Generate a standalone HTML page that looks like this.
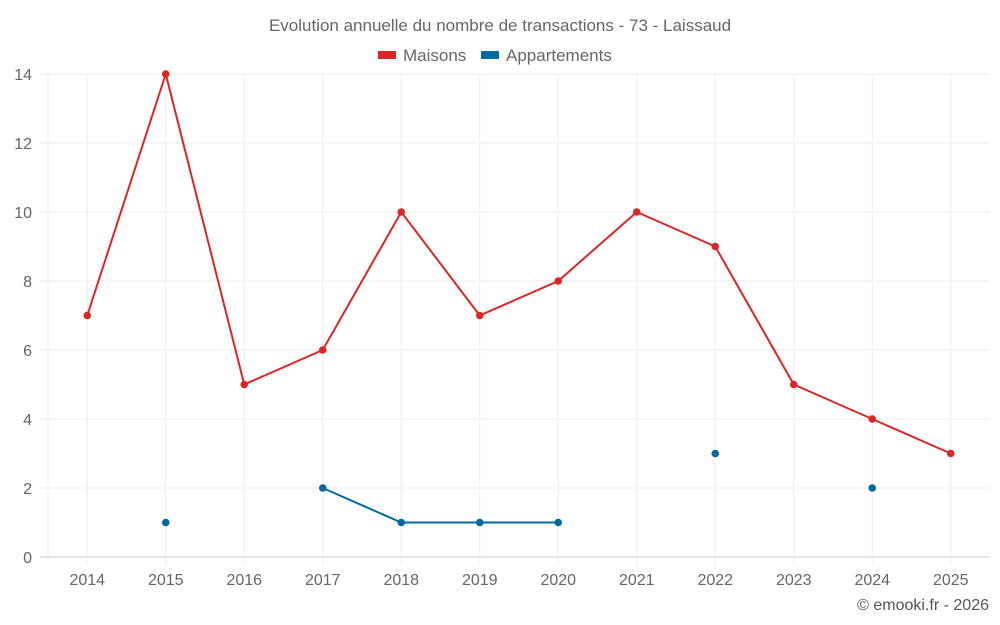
<!DOCTYPE html>
<html><head><meta charset="utf-8"><style>
body{margin:0;background:#fff;}
svg{display:block;font-family:"Liberation Sans",sans-serif;}
</style></head><body>
<svg id="chart" width="1000" height="625">
<text x="500" y="31" text-anchor="middle" font-size="17" fill="#666">Evolution annuelle du nombre de transactions - 73 - Laissaud</text>
<g>
<g><rect x="378" y="51" width="18" height="8" fill="#dc2626"/><text x="403" y="61" font-size="17" fill="#666">Maisons</text></g>
<g><rect x="481" y="51" width="18" height="8" fill="#0369a1"/><text x="506" y="61" font-size="17" fill="#666">Appartements</text></g>
</g>
<g id="grid"></g><g id="axes"></g><g id="series"></g>
<text x="989" y="610" text-anchor="end" font-size="16" fill="#555">© emooki.fr - 2026</text>
</svg>
<script>
const categories=["2014","2015","2016","2017","2018","2019","2020","2021","2022","2023","2024","2025"];
const maisons=[7,14,5,6,10,7,8,10,9,5,4,3];
const appartements=[null,1,null,2,1,1,1,null,3,null,2,null];
const yTicks=[0,2,4,6,8,10,12,14];
const L=48,R=990,T=74,B=557,yMax=14;
const NS="http://www.w3.org/2000/svg";
const bw=(R-L)/categories.length;
const x=i=>L+bw*(i+0.5);
const y=v=>B-(v/yMax)*(B-T);
function mk(tag,attrs,parent){const e=document.createElementNS(NS,tag);for(const k in attrs)e.setAttribute(k,attrs[k]);parent.appendChild(e);return e;}
const grid=document.getElementById('grid'),axes=document.getElementById('axes'),ser=document.getElementById('series');
yTicks.forEach(t=>{
 const ln=mk('line',{x1:L-8,x2:R,y1:y(t),y2:y(t),stroke:t===0?'#ccc':'#eee'},grid);
 
 
 const tx=mk('text',{x:L-16,y:y(t)+6,'text-anchor':'end','font-size':16,fill:'#666'},axes);
 tx.textContent=t;
 
 
});
const edge=mk('line',{x1:L,x2:L,y1:T,y2:B,stroke:'#eee'},grid);


categories.forEach((c,i)=>{
 const ln=mk('line',{x1:x(i),x2:x(i),y1:T,y2:B+8,stroke:'#eee'},grid);
 
 
 const tx=mk('text',{x:x(i),y:B+28,'text-anchor':'middle','font-size':16,fill:'#666'},axes);
 tx.textContent=c;
 
 
});
function draw(data,color,name){
 let seg=[];
 const segs=[];
 data.forEach((v,i)=>{if(v==null){if(seg.length)segs.push(seg);seg=[];}else seg.push([x(i),y(v)]);});
 if(seg.length)segs.push(seg);
 segs.forEach(s=>{if(s.length>1){
  const p=mk('polyline',{points:s.map(q=>q.join(',')).join(' '),fill:'none',stroke:color,'stroke-width':2},ser);
  
  
 }});
 data.forEach((v,i)=>{if(v==null)return;
  const c=mk('circle',{cx:x(i),cy:y(v),r:3.8,fill:color},ser);
  
  
 });
}
draw(maisons,'#dc2626','maisons');
draw(appartements,'#0369a1','appartements');
</script>
</body></html>
